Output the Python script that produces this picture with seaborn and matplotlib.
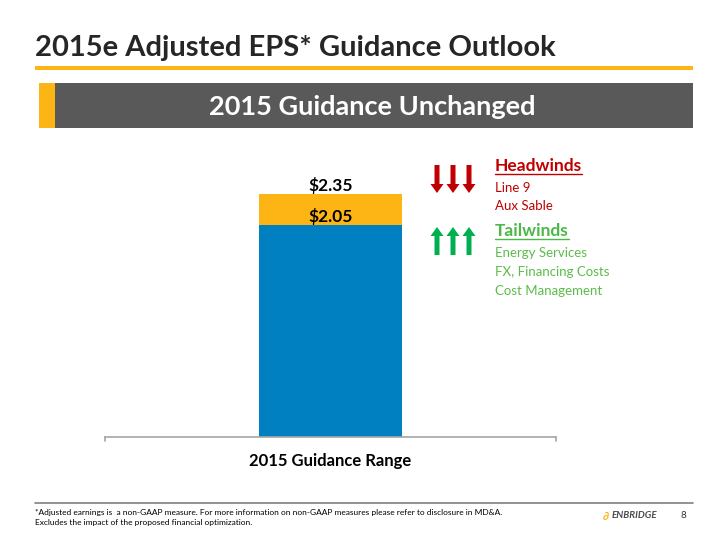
import matplotlib
matplotlib.use("Agg")
import matplotlib.pyplot as plt
import seaborn as sns
import pandas as pd
from matplotlib.patches import Rectangle, FancyArrow
from matplotlib.lines import Line2D

categories = ["2015 Guidance Range"]
low_values = [2.05]
high_values = [2.35]
low_labels = ["$2.05"]
high_labels = ["$2.35"]
headwinds = ["Line 9", "Aux Sable"]
tailwinds = ["Energy Services", "FX, Financing Costs", "Cost Management"]

sns.set_theme(style="white")
plt.rcParams['font.family'] = ['Lato', 'DejaVu Sans']

BLUE = "#0080C0"
ORANGE = "#FDB515"
RED = "#C00000"
GREEN = "#4DB848"
DARK = "#262626"

fig = plt.figure(figsize=(7.2, 5.4), dpi=100)
W, H = 720, 540
def fx(x): return x / W
def fy(y): return 1 - y / H

ax = fig.add_axes([fx(105), fy(437), fx(556) - fx(105), (437 - 148) / H])
df = pd.DataFrame({"cat": categories, "low": low_values, "high": high_values})
sns.barplot(data=df, x="cat", y="high", color=ORANGE, saturation=1, width=0.317, ax=ax)
sns.barplot(data=df, x="cat", y="low", color=BLUE, saturation=1, width=0.317, ax=ax)
for p in ax.patches:
    p.set_edgecolor("none")
ax.set_xlim(-0.5, 0.5)
ax.set_ylim(0, 2.8)
ax.set_yticks([])
ax.set_ylabel("")
ax.set_xlabel("")
ax.set_xticks([])
for s in ["top", "right", "left"]:
    ax.spines[s].set_visible(False)
ax.spines["bottom"].set_color("#A6A6A6")
ax.spines["bottom"].set_linewidth(1.2)
for xv in (-0.5, 0.5):
    ax.plot([xv, xv], [0, -0.04], color="#A6A6A6", lw=1.2, clip_on=False)
ax.text(0, -0.23, categories[0], ha="center", va="center", fontsize=12, fontweight="bold", color="#000000")
for i in range(len(categories)):
    ax.text(i, high_values[i] + 0.005, high_labels[i], ha="center", va="bottom", fontsize=12.5, fontweight="bold", color="#000000")
    ax.text(i, low_values[i] + 0.005, low_labels[i], ha="center", va="bottom", fontsize=12.5, fontweight="bold", color="#000000")

# Header
fig.text(fx(35), fy(48), "2015e Adjusted EPS* Guidance Outlook", fontsize=21, fontweight="bold", color=DARK, va="center", ha="left")
fig.add_artist(Rectangle((fx(35), fy(70)), fx(693) - fx(35), 4 / H, transform=fig.transFigure, color=ORANGE, lw=0))
fig.add_artist(Rectangle((fx(39), fy(128)), fx(693) - fx(39), 45 / H, transform=fig.transFigure, color="#595959", lw=0))
fig.add_artist(Rectangle((fx(39), fy(128)), fx(55) - fx(39), 45 / H, transform=fig.transFigure, color=ORANGE, lw=0))
fig.text(fx(372), fy(107), "2015 Guidance Unchanged", fontsize=19.5, fontweight="bold", color="white", va="center", ha="center")

# Arrows
for xa in (437, 453, 469):
    fig.add_artist(FancyArrow(fx(xa), fy(165), 0, -(193 - 165) / H, width=5 / W, head_width=13 / W,
                              head_length=9 / H, length_includes_head=True, transform=fig.transFigure,
                              color=RED, lw=0))
    fig.add_artist(FancyArrow(fx(xa), fy(255), 0, (255 - 227) / H, width=5 / W, head_width=13 / W,
                              head_length=9 / H, length_includes_head=True, transform=fig.transFigure,
                              color="#00B050", lw=0))

def heading(y, text, color):
    t = fig.text(fx(495), fy(y), text, fontsize=12.5, fontweight="bold", color=color, va="center", ha="left")
    fig.canvas.draw()
    bb = t.get_window_extent()
    fig.add_artist(Line2D([fx(495), fx(495) + bb.width / W], [fy(y + 8), fy(y + 8)],
                          transform=fig.transFigure, color=color, lw=1))

heading(166, "Headwinds", RED)
for i, t in enumerate(headwinds):
    fig.text(fx(495), fy(188 + 18.5 * i), t, fontsize=9.5, color=RED, va="center", ha="left")
heading(231, "Tailwinds", GREEN)
for i, t in enumerate(tailwinds):
    fig.text(fx(495), fy(253 + 19 * i), t, fontsize=9.5, color="#5DBB4B", va="center", ha="left")

# Footer
fig.add_artist(Line2D([fx(35), fx(693)], [fy(503), fy(503)], transform=fig.transFigure, color="#7F7F7F", lw=1.2))
fig.text(fx(35), fy(512), "*Adjusted earnings is  a non-GAAP measure. For more information on non-GAAP measures please refer to disclosure in MD&A.",
         fontsize=6, color="#000000", va="center", ha="left")
fig.text(fx(35), fy(522), "Excludes the impact of the proposed financial optimization.", fontsize=6, color="#000000", va="center", ha="left")
fig.text(fx(603), fy(516), "\u2202", fontsize=8, fontweight="bold", style="italic", color=ORANGE, va="center", ha="left")
fig.text(fx(612), fy(516), "ENBRIDGE", fontsize=7, fontweight="bold", style="italic", color="#4A4A4A", va="center", ha="left")
fig.text(fx(683), fy(516), "8", fontsize=7, color="#333333", va="center", ha="center")

fig.savefig("out.png", dpi=100)
